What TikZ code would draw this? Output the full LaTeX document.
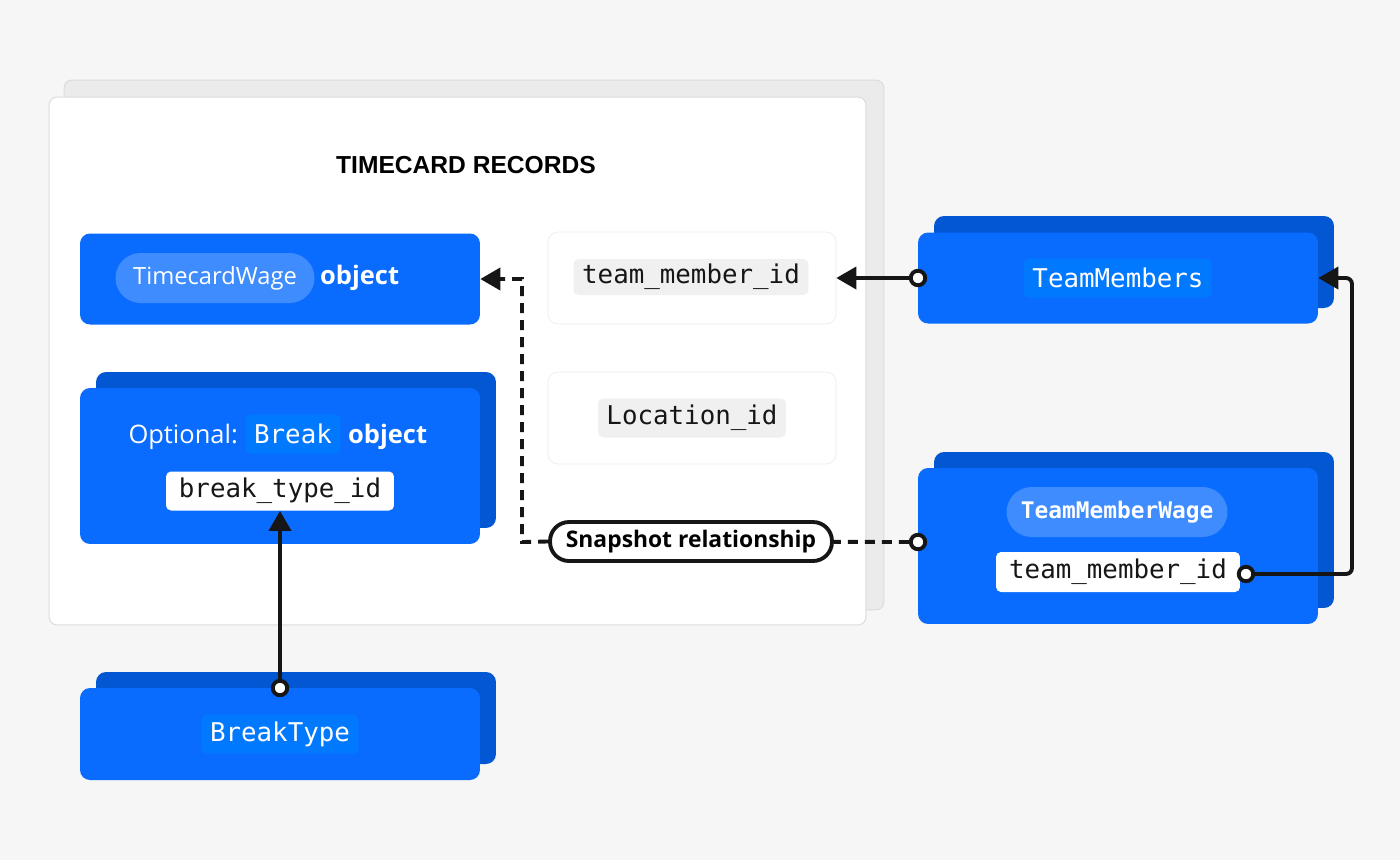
\documentclass[tikz,border=0pt]{standalone}
\usepackage{fontspec}
\usetikzlibrary{arrows.meta,positioning}

\newfontfamily\uisans{Open Sans}
\newfontfamily\uimono{DejaVu Sans Mono}
\newfontfamily\headfont{Liberation Sans}

\definecolor{canvas}{HTML}{F6F6F6}
\definecolor{panelgray}{HTML}{EBEBEB}
\definecolor{panelline}{HTML}{DCDCDC}
\definecolor{cardblue}{HTML}{0A6CFF}
\definecolor{backblue}{HTML}{0457D3}
\definecolor{pillblue}{HTML}{3F8CFF}
\definecolor{tileblue}{HTML}{0079FF}
\definecolor{tilegray}{HTML}{F0F0F0}
\definecolor{ink}{HTML}{161616}

\begin{document}
\begin{tikzpicture}[x=0.02cm, y=-0.02cm]
    \tikzset{panel/.style = {fill=white, draw=panelline, line width=0.6pt, rounded corners=0.16cm}}
    \tikzset{backcard/.style = {fill=backblue, rounded corners=0.2cm, minimum width=8cm}}
    \tikzset{card/.style = {fill=cardblue, rounded corners=0.2cm, minimum width=8cm}}
    \tikzset{field/.style = {fill=white, draw=black!7, rounded corners=0.2cm, minimum width=5.76cm, minimum height=1.84cm}}
    \tikzset{tile/.style = {rounded corners=0.1cm, inner sep=0pt, minimum height=0.78cm, font=\uimono\fontsize{14.7}{16}\selectfont}}
    \tikzset{pill/.style = {fill=pillblue, rounded corners=0.5cm, inner sep=0pt, minimum height=1cm, text=white}}
    \tikzset{txt/.style = {inner sep=0pt, text=white, font=\uisans\fontsize{14.5}{16}\selectfont}}
    \tikzset{boldtxt/.style = {txt, font=\uisans\bfseries\fontsize{14.5}{16}\selectfont}}
    \tikzset{dot/.style = {circle, draw=ink, line width=2.2pt, fill=white, inner sep=0pt, minimum size=0.29cm}}
    \tikzset{link/.style = {draw=ink, line width=2.2pt, -{Triangle[length=0.4cm,width=0.44cm]}}}
    \tikzset{snap/.style = {draw=ink, line width=2.2pt, dash pattern=on 0.2cm off 0.14cm}}

    % canvas
    \fill[canvas] (0,0) rectangle (1400,860);

    % records panel
    \node[panel, fill=panelgray, minimum width=16.4cm, minimum height=10.6cm] (recback) at (474,345) {};
    \node[panel, minimum width=16.34cm, minimum height=10.56cm] (records) at (457.5,361) {};
    \node[font=\headfont\bfseries\fontsize{14}{16}\selectfont] (title) at (466,165) {TIMECARD RECORDS};

    % timecard wage
    \node[card, minimum height=1.82cm] (wage) at (280,279) {};
    \node[pill, minimum width=3.98cm, font=\uisans\fontsize{13.5}{15}\selectfont] (wagename) at (215,278) {TimecardWage};
    \node[boldtxt, base right=0.1cm of wagename] (wageobj) {object};

    % break
    \node[backcard, minimum height=3.12cm] (breakback) at (296,450) {};
    \node[card, minimum height=3.12cm] (break) at (280,466) {};
    \node[tile, fill=tileblue, text=white, minimum width=1.9cm] (breakname) at (293,434) {Break};
    \node[txt, base left=0.14cm of breakname] (optional) {Optional:};
    \node[boldtxt, base right=0.14cm of breakname] (breakobj) {object};
    \node[tile, fill=white, text=ink, minimum width=4.56cm] (breakid) at (280,491) {break\_type\_id};

    % fields
    \node[field] (tmcard) at (692,278) {};
    \node[tile, fill=tilegray, text=ink, minimum width=4.7cm, minimum height=0.72cm] (tmid) at (691,277) {team\_member\_id};
    \node[field] (loccard) at (692,418) {};
    \node[tile, fill=tilegray, text=ink, minimum width=3.76cm] (locid) at (692,418) {Location\_id};

    % team members
    \node[backcard, minimum height=1.84cm] (membersback) at (1134,262) {};
    \node[card, minimum height=1.82cm] (members) at (1118,278) {};
    \node[tile, fill=tileblue, text=white, minimum width=3.76cm] (membersname) at (1118,278) {TeamMembers};

    % team member wage
    \node[backcard, minimum height=3.12cm] (mwageback) at (1134,530) {};
    \node[card, minimum height=3.12cm] (mwage) at (1118,546) {};
    \node[pill, minimum width=4.42cm, font=\uimono\bfseries\fontsize{13}{15}\selectfont] (mwagename) at (1117,512) {TeamMemberWage};
    \node[tile, fill=white, text=ink, minimum width=4.88cm, minimum height=0.8cm] (mwageid) at (1118,572) {team\_member\_id};

    % break type
    \node[backcard, minimum height=1.84cm] (btypeback) at (296,718) {};
    \node[card, minimum height=1.84cm] (btype) at (280,734) {};
    \node[tile, fill=tileblue, text=white, minimum width=3.14cm] (btypename) at (280,734) {BreakType};

    % snapshot label
    \node[draw=ink, line width=2.2pt, fill=white, rounded corners=0.38cm, minimum width=5.64cm, minimum height=0.78cm, inner sep=0pt,
          font=\uisans\bfseries\fontsize{13}{15}\selectfont] (snapshot) at (691,541.5) {Snapshot relationship};

    % dots
    \node[dot] (memdot) at (918,278) {};
    \node[dot] (mwagedot) at (918,542) {};
    \node[dot] (iddot) at (1246,574) {};
    \node[dot] (btdot) at (280,688) {};
    \coordinate (bendr) at (1352,574);
    \coordinate (bendl) at (522,542);

    % edges
    \draw[link] (memdot) -- (tmcard);
    \draw[link, rounded corners=0.12cm] (iddot) -- (bendr) |- (members.east);
    \draw[snap] (mwagedot) -- (snapshot);
    \draw[snap, -{Triangle[length=0.4cm,width=0.44cm]}] (snapshot.west) -- (bendl) |- (wage.east);
    \draw[link] (btdot) -- (breakid);
\end{tikzpicture}
\end{document}
